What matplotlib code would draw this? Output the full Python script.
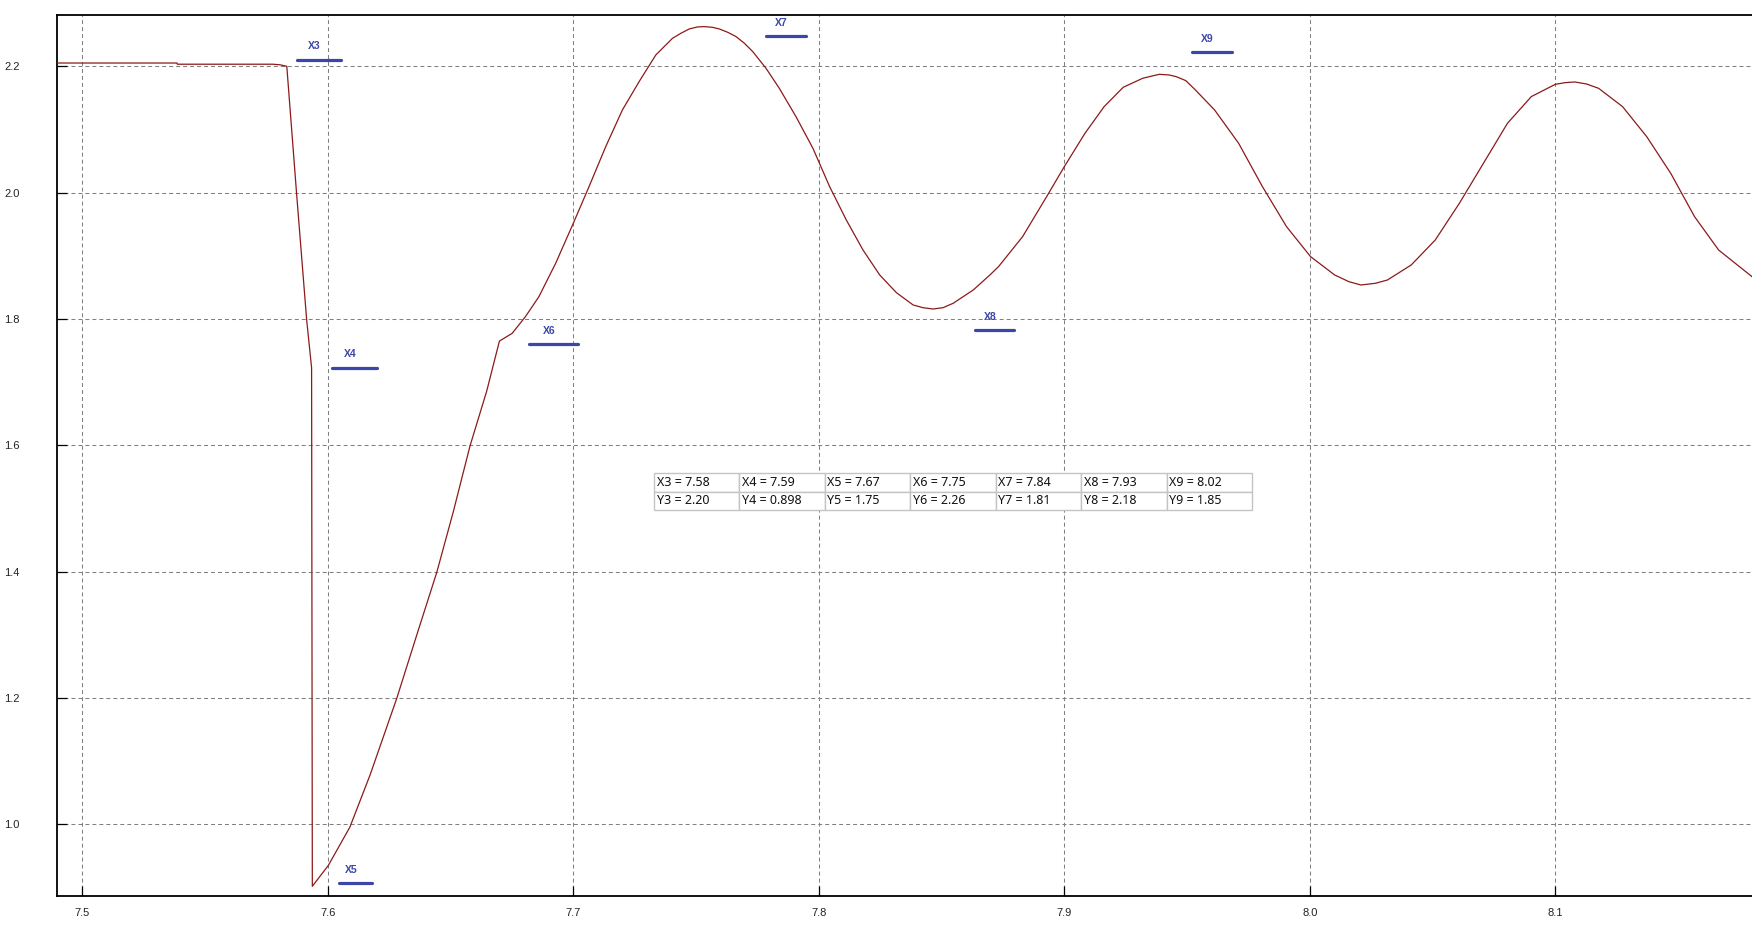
import numpy as np
import matplotlib.pyplot as plt

# signal
curve_x = [7.4897, 7.5386, 7.5387, 7.5776, 7.5805, 7.5833, 7.5873, 7.5914, 7.5934,
           7.5937, 7.6002, 7.6090, 7.6172, 7.6281, 7.6362, 7.6444, 7.6511, 7.6579,
           7.6647, 7.6699, 7.6751, 7.6805, 7.6860, 7.6928, 7.7000, 7.7064, 7.7132,
           7.7200, 7.7268, 7.7336, 7.7404, 7.7438, 7.7472, 7.7506, 7.7533, 7.7567,
           7.7595, 7.7629, 7.7663, 7.7697, 7.7731,
           7.7785, 7.7839, 7.7907, 7.7976, 7.8044, 7.8112, 7.8180, 7.8248, 7.8316,
           7.8384, 7.8424, 7.8465, 7.8506, 7.8547, 7.8629, 7.8697, 7.8732, 7.8830,
           7.8928, 7.9000, 7.9084, 7.9162, 7.9240, 7.9319, 7.9358, 7.9387, 7.9426,
           7.9456, 7.9495, 7.9534, 7.9612, 7.9710, 7.9807, 7.9905, 8.0003, 8.0101,
           8.0159, 8.0208, 8.0267, 8.0316, 8.0413, 8.0511, 8.0609, 8.0707, 8.0805,
           8.0902, 8.1000, 8.1040, 8.1079, 8.1127, 8.1176, 8.1274, 8.1372, 8.1470,
           8.1567, 8.1665, 8.1801]
curve_y = [2.2052, 2.2052, 2.2033, 2.2033, 2.2024, 2.2000, 1.9978, 1.7982, 1.7228,
           0.9020, 0.9349, 0.9957, 1.0780, 1.1996, 1.2993, 1.3991, 1.4946, 1.5987,
           1.6855, 1.7650, 1.7773, 1.8037, 1.8354, 1.8881, 1.9515, 2.0095, 2.0728,
           2.1309, 2.1757, 2.2179, 2.2443, 2.2522, 2.2591, 2.2623, 2.2628, 2.2617,
           2.2591, 2.2538, 2.2470, 2.2364, 2.2232,
           2.1968, 2.1652, 2.1203, 2.0702, 2.0095, 1.9567, 1.9092, 1.8697, 1.8417,
           1.8222, 1.8179, 1.8158, 1.8179, 1.8248, 1.8459, 1.8697, 1.8829, 1.9303,
           1.9937, 2.0412, 2.0939, 2.1361, 2.1668, 2.1810, 2.1847, 2.1873, 2.1863,
           2.1836, 2.1773, 2.1625, 2.1309, 2.0781, 2.0095, 1.9462, 1.8987, 1.8697,
           1.8591, 1.8538, 1.8565, 1.8617, 1.8855, 1.9251, 1.9831, 2.0464, 2.1098,
           2.1520, 2.1715, 2.1741, 2.1752, 2.1720, 2.1652, 2.1361, 2.0887, 2.0306,
           1.9620, 1.9092, 1.8670]

# cursor markers
marker_names = ['X3', 'X4', 'X5', 'X6', 'X7', 'X8', 'X9']
marker_x0 = [7.5873, 7.6019, 7.6046, 7.6818, 7.7783, 7.8637, 7.9520]
marker_x1 = [7.6052, 7.6200, 7.6182, 7.7021, 7.7946, 7.8795, 7.9684]
marker_y = [2.2104, 1.7228, 0.9072, 1.7604, 2.2480, 1.7820, 2.2222]

# readout table
table_x = ['7.58', '7.59', '7.67', '7.75', '7.84', '7.93', '8.02']
table_y = ['2.20', '0.898', '1.75', '2.26', '1.81', '2.18', '1.85']

xticks = [7.5, 7.6, 7.7, 7.8, 7.9, 8.0, 8.1]
yticks = [1.0, 1.2, 1.4, 1.6, 1.8, 2.0, 2.2]

W, H = 1752, 926
fig = plt.figure(figsize=(W / 100, H / 100), dpi=100)
ax = fig.add_axes([57 / W, 1 - 896 / H, 1 - 57 / W, (896 - 15) / H])

ax.plot(curve_x, curve_y, color='#8b1a1a', lw=0.9, zorder=3)

blue = '#3a46a8'
for name, x0, x1, y in zip(marker_names, marker_x0, marker_x1, marker_y):
    ax.plot([x0, x1], [y, y], color=blue, lw=2.3, solid_capstyle='round', zorder=4)
    ax.annotate(name, ((x0 + x1) / 2 - 0.0018, y), xytext=(0, 6),
                textcoords='offset points', ha='center', va='bottom',
                color=blue, fontsize=7.5, fontweight='bold',
                family='Liberation Sans', zorder=4)

ax.set_xlim(7.4897, 8.1801)
ax.set_ylim(0.8866, 2.2812)
ax.set_xticks(xticks)
ax.set_xticklabels(['%.1f' % v for v in xticks])
ax.set_yticks(yticks)
ax.set_yticklabels(['%.1f' % v for v in yticks])
ax.tick_params(direction='in', length=7, width=0.9, color='black',
               labelsize=8, labelcolor='#222222')
ax.tick_params(axis='y', pad=27)
ax.tick_params(axis='x', pad=9)
for lab in ax.get_xticklabels() + ax.get_yticklabels():
    lab.set_family('Liberation Sans')
ax.grid(True, color='#808080', lw=0.75, linestyle=(0, (3.8, 2.9)))
for side in ['top', 'left', 'bottom']:
    ax.spines[side].set_linewidth(1.3)
ax.spines['right'].set_visible(False)

# readout table as a separate axes
tab_ax = fig.add_axes([654 / W, 1 - 510 / H, 598 / W, 37 / H])
tab_ax.axis('off')
cells = [['%s = %s' % (n, v) for n, v in zip(marker_names, table_x)],
         ['%s = %s' % (n.replace('X', 'Y'), v) for n, v in zip(marker_names, table_y)]]
tab = tab_ax.table(cellText=cells, cellLoc='left', bbox=[0, 0, 1, 1])
tab.auto_set_font_size(False)
for cell in tab.get_celld().values():
    cell.set_edgecolor('#c4c4c4')
    cell.set_linewidth(1.0)
    cell.PAD = 0.03
    cell.get_text().set_fontsize(9)
    cell.get_text().set_family('Noto Sans')
    cell.get_text().set_color('#111111')

fig.savefig('out.png', dpi=100)
